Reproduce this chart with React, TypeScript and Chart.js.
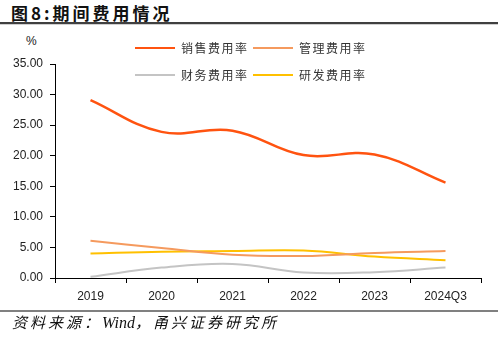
import React, { useEffect, useRef } from "react";
import { Chart, registerables } from "chart.js";

Chart.register(...registerables);

const categories = ["2019", "2020", "2021", "2022", "2023", "2024Q3"];
const salesRate = [29.1, 23.9, 24.1, 20.1, 20.2, 15.6];
const mgmtRate = [6.1, 4.9, 3.8, 3.6, 4.1, 4.4];
const finRate = [0.2, 1.7, 2.3, 0.9, 0.95, 1.7];
const rdRate = [4.0, 4.3, 4.4, 4.5, 3.5, 2.9];
const seriesNames = ["销售费用率", "管理费用率", "财务费用率", "研发费用率"];
const yTicks = [0, 5, 10, 15, 20, 25, 30, 35];

const colors = ["#FF5310", "#F59A5E", "#C4C4C4", "#FFC000"];

const legendPlugin = {
  id: "customLegend",
  afterDraw(chart: any) {
    const ctx = chart.ctx;
    const startX = [135, 253];
    const rowY = [48, 75];
    ctx.save();
    chart.data.datasets.forEach((ds: any, i: number) => {
      const col = i % 2;
      const row = Math.floor(i / 2);
      const x = startX[col];
      const y = rowY[row];
      ctx.strokeStyle = ds.borderColor;
      ctx.lineWidth = 2;
      ctx.beginPath();
      ctx.moveTo(x, y);
      ctx.lineTo(x + 40, y);
      ctx.stroke();
      ctx.fillStyle = "#333333";
      ctx.font = '12px "Noto Sans CJK SC"';
      (ctx as any).letterSpacing = "1.5px";
      ctx.textBaseline = "middle";
      ctx.textAlign = "left";
      ctx.fillText(ds.label, x + 46, y);
    });
    ctx.restore();
  },
};

export default function App() {
  const ref = useRef<HTMLCanvasElement | null>(null);
  useEffect(() => {
    document.body.style.margin = "0";
    const data = [salesRate, mgmtRate, finRate, rdRate];
    const chart = new Chart(ref.current as HTMLCanvasElement, {
      type: "line",
      data: {
        labels: categories,
        datasets: data.map((d, i) => ({
          label: seriesNames[i],
          data: d,
          borderColor: colors[i],
          backgroundColor: colors[i],
          borderWidth: i === 0 ? 2.5 : 2,
          pointRadius: 0,
          tension: 0.4,
          fill: false,
        })),
      },
      options: {
        responsive: false,
        animation: false,
        layout: { padding: { left: 10, right: 17, top: 64, bottom: 30 } },
        plugins: { legend: { display: false }, tooltip: { enabled: false } },
        scales: {
          x: {
            offset: true,
            afterFit: (s: any) => {
              s.height = 30;
            },
            grid: {
              offset: true,
              drawOnChartArea: false,
              drawTicks: true,
              tickLength: 5,
              color: "#000000",
            },
            border: { display: true, color: "#000000", width: 1 },
            ticks: {
              color: "#222222",
              padding: 6,
              font: { family: "Liberation Sans", size: 12 },
            },
          },
          y: {
            min: 0,
            max: 35,
            afterFit: (s: any) => {
              s.width = 45;
            },
            afterBuildTicks: (s: any) => {
              s.ticks = yTicks.map((v) => ({ value: v }));
            },
            grid: {
              drawOnChartArea: false,
              drawTicks: true,
              tickLength: 5,
              color: "#000000",
            },
            border: { display: true, color: "#000000", width: 1 },
            ticks: {
              color: "#222222",
              padding: 7,
              font: { family: "Liberation Sans", size: 12 },
              callback: (v: any) => Number(v).toFixed(2),
            },
          },
        },
      },
      plugins: [legendPlugin],
    });
    return () => chart.destroy();
  }, []);

  return (
    <div style={{ position: "relative", width: 498, height: 338, background: "#fff", overflow: "hidden" }}>
      <div
        style={{
          position: "absolute",
          left: 11,
          top: 1,
          fontFamily: '"Noto Sans CJK SC", sans-serif',
          fontWeight: "bold",
          fontSize: 17,
          letterSpacing: 3,
          lineHeight: "24px",
          color: "#111",
          whiteSpace: "nowrap",
        }}
      >
        图8:期间费用情况
      </div>
      <div style={{ position: "absolute", left: 0, top: 22, width: 498, height: 2, background: "#404040" }} />
      <div style={{ position: "absolute", left: 0, top: 24, width: 498, height: 1, background: "#d0d0d0" }} />
      <div
        style={{
          position: "absolute",
          left: 26,
          top: 34,
          fontFamily: '"Liberation Sans", sans-serif',
          fontSize: 12,
          lineHeight: "14px",
          color: "#222",
        }}
      >
        %
      </div>
      <canvas ref={ref} width={498} height={338} style={{ position: "absolute", left: 0, top: 0 }} />
      <div style={{ position: "absolute", left: 0, top: 310, width: 498, height: 2, background: "#808080" }} />
      <div
        style={{
          position: "absolute",
          left: 12,
          top: 313,
          fontFamily: '"Liberation Serif", "Noto Sans CJK SC", serif',
          fontStyle: "italic",
          fontSize: 15,
          letterSpacing: 3,
          lineHeight: "20px",
          color: "#111",
          whiteSpace: "nowrap",
        }}
      >
        资料来源：<span style={{ letterSpacing: 0, fontSize: 16 }}>Wind</span>，甬兴证券研究所
      </div>
    </div>
  );
}
